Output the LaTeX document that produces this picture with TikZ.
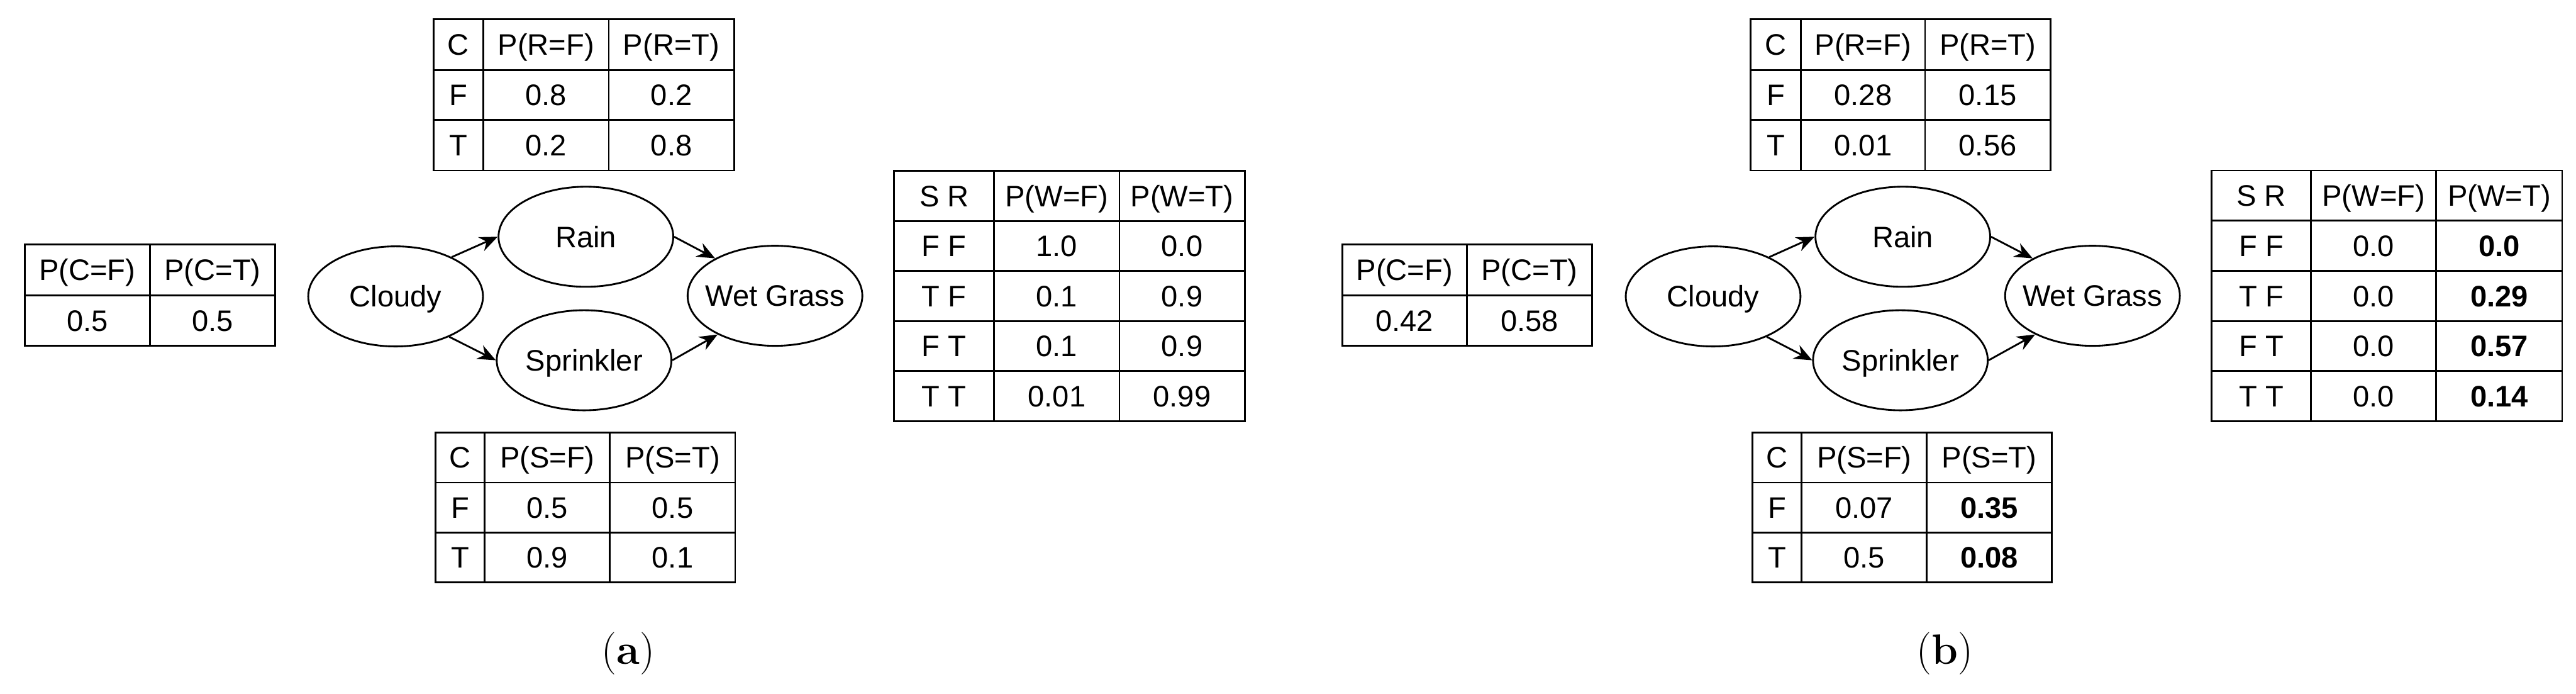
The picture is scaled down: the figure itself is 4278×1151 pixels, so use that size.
\documentclass[tikz,border=0pt]{standalone}
\usepackage{fontspec}
\newfontfamily\arial{Liberation Sans}
\usetikzlibrary{arrows.meta,shapes.geometric}
\tikzset{
  tab/.style={line width=0.85pt},
  txt/.style={font=\arial\fontsize{14}{16}\selectfont, inner sep=0pt, anchor=center, text height=0.35cm, text depth=0pt},
  bn/.style={ellipse, draw, line width=0.85pt, minimum width=2.9cm, minimum height=1.66cm, inner sep=0pt},
  arr/.style={line width=0.85pt, -{Stealth[length=0.3cm,width=0.25cm,inset=0.1cm]}},
  sub/.style={font=\fontsize{20}{24}\selectfont, inner sep=0pt}
}
\begin{document}
\begin{tikzpicture}[x=0.01cm,y=-0.01cm]
\useasboundingbox (0,0) rectangle (4278,1151);

% ================= (a) =================
% C table
\draw[tab] (41,406) rectangle (457,574);
\draw[tab] (249,406) -- (249,574);
\draw[tab] (41,490) -- (457,490);
\node[txt] (ac1) at (145,448) {P(C=F)};
\node[txt] (ac2) at (353,448) {P(C=T)};
\node[txt] (ac3) at (145,532) {0.5};
\node[txt] (ac4) at (353,532) {0.5};

% R table
\draw[tab] (720,32) rectangle (1219,283);
\draw[tab] (803,32) -- (803,283) (1011,32) -- (1011,283);
\draw[tab] (720,116) -- (1219,116) (720,199) -- (1219,199);
\node[txt] (ar11) at (761,74) {C};
\node[txt] (ar12) at (907,74) {P(R=F)};
\node[txt] (ar13) at (1115,74) {P(R=T)};
\node[txt] (ar21) at (761,157.5) {F};
\node[txt] (ar22) at (907,157.5) {0.8};
\node[txt] (ar23) at (1115,157.5) {0.2};
\node[txt] (ar31) at (761,241) {T};
\node[txt] (ar32) at (907,241) {0.2};
\node[txt] (ar33) at (1115,241) {0.8};

% S table
\draw[tab] (723,718) rectangle (1221,967);
\draw[tab] (805,718) -- (805,967) (1013,718) -- (1013,967);
\draw[tab] (723,801) -- (1221,801) (723,884) -- (1221,884);
\node[txt] (as11) at (764,759.5) {C};
\node[txt] (as12) at (909,759.5) {P(S=F)};
\node[txt] (as13) at (1117,759.5) {P(S=T)};
\node[txt] (as21) at (764,842.5) {F};
\node[txt] (as22) at (909,842.5) {0.5};
\node[txt] (as23) at (1117,842.5) {0.5};
\node[txt] (as31) at (764,925.5) {T};
\node[txt] (as32) at (909,925.5) {0.9};
\node[txt] (as33) at (1117,925.5) {0.1};

% W table
\draw[tab] (1485,284) rectangle (2067,699);
\draw[tab] (1651,284) -- (1651,699) (1859,284) -- (1859,699);
\draw[tab] (1485,367) -- (2067,367) (1485,450) -- (2067,450) (1485,533) -- (2067,533) (1485,616) -- (2067,616);
\node[txt] (aw11) at (1568,325.5) {S R};
\node[txt] (aw12) at (1755,325.5) {P(W=F)};
\node[txt] (aw13) at (1963,325.5) {P(W=T)};
\node[txt] (aw21) at (1568,408.5) {F F};
\node[txt] (aw22) at (1755,408.5) {1.0};
\node[txt] (aw23) at (1963,408.5) {0.0};
\node[txt] (aw31) at (1568,491.5) {T F};
\node[txt] (aw32) at (1755,491.5) {0.1};
\node[txt] (aw33) at (1963,491.5) {0.9};
\node[txt] (aw41) at (1568,574.5) {F T};
\node[txt] (aw42) at (1755,574.5) {0.1};
\node[txt] (aw43) at (1963,574.5) {0.9};
\node[txt] (aw51) at (1568,657.5) {T T};
\node[txt] (aw52) at (1755,657.5) {0.01};
\node[txt] (aw53) at (1963,657.5) {0.99};

% network
\node[bn, label={[txt]center:Cloudy}] (acl) at (657,492) {};
\node[bn, label={[txt]center:Rain}] (ara) at (973,393) {};
\node[bn, label={[txt]center:Sprinkler}] (asp) at (970,598) {};
\node[bn, label={[txt]center:Wet Grass}] (awg) at (1287,491) {};
\draw[arr] (acl.35) -- (ara.west);
\draw[arr] (acl.-37) -- (asp.west);
\draw[arr] (ara.east) -- (awg.148);
\draw[arr] (asp.east) -- (awg.-146);

\node[sub] (la) at (1043,1085) {(\textbf{a})};

% ================= (b) =================
% C table
\draw[tab] (2229,406) rectangle (2644,574);
\draw[tab] (2436,406) -- (2436,574);
\draw[tab] (2229,490) -- (2644,490);
\node[txt] (bc1) at (2332.5,448) {P(C=F)};
\node[txt] (bc2) at (2540,448) {P(C=T)};
\node[txt] (bc3) at (2332.5,532) {0.42};
\node[txt] (bc4) at (2540,532) {0.58};

% R table
\draw[tab] (2907,32) rectangle (3405,283);
\draw[tab] (2991,32) -- (2991,283) (3197,32) -- (3197,283);
\draw[tab] (2907,116) -- (3405,116) (2907,199) -- (3405,199);
\node[txt] (br11) at (2949,74) {C};
\node[txt] (br12) at (3094,74) {P(R=F)};
\node[txt] (br13) at (3301,74) {P(R=T)};
\node[txt] (br21) at (2949,157.5) {F};
\node[txt] (br22) at (3094,157.5) {0.28};
\node[txt] (br23) at (3301,157.5) {0.15};
\node[txt] (br31) at (2949,241) {T};
\node[txt] (br32) at (3094,241) {0.01};
\node[txt] (br33) at (3301,241) {0.56};

% S table
\draw[tab] (2910,718) rectangle (3407,967);
\draw[tab] (2992,718) -- (2992,967) (3200,718) -- (3200,967);
\draw[tab] (2910,801) -- (3407,801) (2910,884) -- (3407,884);
\node[txt] (bs11) at (2951,759.5) {C};
\node[txt] (bs12) at (3096,759.5) {P(S=F)};
\node[txt] (bs13) at (3303.5,759.5) {P(S=T)};
\node[txt] (bs21) at (2951,842.5) {F};
\node[txt] (bs22) at (3096,842.5) {0.07};
\node[txt] (bs23) at (3303.5,842.5) {\bfseries 0.35};
\node[txt] (bs31) at (2951,925.5) {T};
\node[txt] (bs32) at (3096,925.5) {0.5};
\node[txt] (bs33) at (3303.5,925.5) {\bfseries 0.08};

% W table
\draw[tab] (3673,283) rectangle (4255,699);
\draw[tab] (3838,283) -- (3838,699) (4046,283) -- (4046,699);
\draw[tab] (3673,366) -- (4255,366) (3673,450) -- (4255,450) (3673,533) -- (4255,533) (3673,616) -- (4255,616);
\node[txt] (bw11) at (3755.5,324.5) {S R};
\node[txt] (bw12) at (3942,324.5) {P(W=F)};
\node[txt] (bw13) at (4150.5,324.5) {P(W=T)};
\node[txt] (bw21) at (3755.5,408) {F F};
\node[txt] (bw22) at (3942,408) {0.0};
\node[txt] (bw23) at (4150.5,408) {\bfseries 0.0};
\node[txt] (bw31) at (3755.5,491.5) {T F};
\node[txt] (bw32) at (3942,491.5) {0.0};
\node[txt] (bw33) at (4150.5,491.5) {\bfseries 0.29};
\node[txt] (bw41) at (3755.5,574.5) {F T};
\node[txt] (bw42) at (3942,574.5) {0.0};
\node[txt] (bw43) at (4150.5,574.5) {\bfseries 0.57};
\node[txt] (bw51) at (3755.5,657.5) {T T};
\node[txt] (bw52) at (3942,657.5) {0.0};
\node[txt] (bw53) at (4150.5,657.5) {\bfseries 0.14};

% network
\node[bn, label={[txt]center:Cloudy}] (bcl) at (2845,492) {};
\node[bn, label={[txt]center:Rain}] (bra) at (3160,393) {};
\node[bn, label={[txt]center:Sprinkler}] (bsp) at (3156,598) {};
\node[bn, label={[txt]center:Wet Grass}] (bwg) at (3475,491) {};
\draw[arr] (bcl.35) -- (bra.west);
\draw[arr] (bcl.-37) -- (bsp.west);
\draw[arr] (bra.east) -- (bwg.148);
\draw[arr] (bsp.east) -- (bwg.-146);

\node[sub] (lb) at (3230,1085) {(\textbf{b})};
\end{tikzpicture}
\end{document}
